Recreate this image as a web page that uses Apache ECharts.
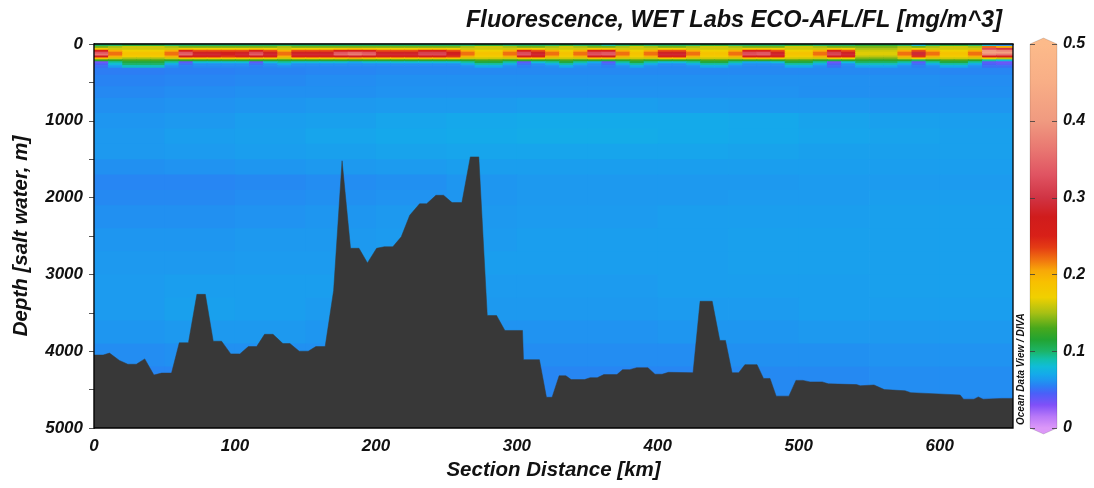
<!DOCTYPE html>
<html><head><meta charset="utf-8">
<script src="https://cdn.jsdelivr.net/npm/echarts/dist/echarts.min.js"></script>
<style>html,body{margin:0;padding:0;background:#fff}#c{width:1094px;height:488px}</style>
</head><body><div id="c"></div>
<script>
// ---------------- data ----------------
const chartTitle = 'Fluorescence, WET Labs ECO-AFL/FL [mg/m^3]';
const xName = 'Section Distance [km]';
const yName = 'Depth [salt water, m]';
const colorbarTicks = [0, 0.1, 0.2, 0.3, 0.4, 0.5];

// seafloor (km, m)
const bottomKm = [0,6.5,11,18,24,30,36,42.5,48,55,60.5,67,73,79,84.6,90.5,97,103.5,109.5,115.4,121,127,134,139,145.6,152,157.4,164,170,176,182,188,194,200.5,206,212,218,224,231,236,242.6,248,254,261,267,273,279,285.6,291.5,304,304.7,316,321,325,330,334.8,338.5,348,352,357,361.7,371,375,380,385,393,398,403,407.6,425,430,438.6,444,448,452.7,457.4,461.8,470.4,475,479.6,484,493,498,503,508,516.7,521,541,543.6,553.4,560.7,575.4,579.5,614.5,616.9,624.3,627.4,630.8,643.8,652];
const bottomDepth = [4050,4050,4025,4120,4170,4170,4100,4310,4285,4285,3890,3890,3260,3260,3870,3870,4035,4035,3940,3940,3780,3780,3900,3900,4000,4000,3940,3940,3210,1520,2660,2660,2850,2660,2640,2640,2510,2230,2080,2080,1970,1970,2065,2065,1470,1470,3535,3535,3730,3730,4110,4110,4600,4600,4320,4320,4370,4370,4345,4345,4305,4305,4240,4240,4215,4215,4300,4300,4275,4280,3350,3350,3860,3860,4280,4280,4175,4175,4355,4355,4585,4585,4380,4380,4400,4400,4425,4435,4450,4440,4500,4515,4540,4570,4625,4625,4595,4625,4615,4615];

// upper layer grid (0-300 m), 10 km columns
const surfKm = [0,10,20,30,40,50,60,70,80,90,100,110,120,130,140,150,160,170,180,190,200,210,220,230,240,250,260,270,280,290,300,310,320,330,340,350,360,370,380,390,400,410,420,430,440,450,460,470,480,490,500,510,520,530,540,550,560,570,580,590,600,610,620,630,640,652];
const surfDepth = [0,25,50,75,100,125,150,175,200,225,250,275,300];
const fl_0_25 = [
 .10,.10,.11,.11,.11,.10,.10,.10,.10,.10,
 .10,.10,.10,.10,.10,.10,.10,.10,.10,.10,
 .10,.10,.10,.10,.10,.10,.10,.11,.11,.10,
 .10,.10,.10,.11,.10,.10,.09,.10,.11,.10,
 .10,.10,.10,.11,.11,.10,.10,.10,.10,.11,
 .11,.10,.10,.10,.11,.11,.11,.10,.08,.10,
 .11,.11,.10,.08,.06];
const fl_25_50 = [
 .14,.15,.16,.16,.16,.15,.14,.14,.14,.14,
 .14,.14,.14,.15,.14,.14,.14,.14,.14,.14,
 .14,.14,.14,.14,.14,.14,.15,.16,.16,.15,
 .14,.14,.15,.16,.15,.14,.14,.15,.16,.15,
 .14,.14,.15,.16,.16,.15,.14,.14,.14,.16,
 .16,.15,.14,.14,.14,.14,.14,.15,.14,.15,
 .16,.16,.15,.22,.20];
const fl_50_75 = [
 .18,.16,.16,.16,.16,.16,.18,.17,.17,.17,
 .17,.18,.17,.16,.17,.17,.17,.18,.19,.18,
 .17,.17,.17,.18,.18,.17,.16,.16,.16,.16,
 .18,.17,.16,.16,.16,.18,.18,.16,.16,.16,
 .17,.17,.16,.16,.16,.16,.18,.18,.17,.16,
 .16,.16,.18,.17,.15,.15,.15,.16,.17,.16,
 .16,.16,.16,.32,.30];
const fl_75_100 = [
 .25,.20,.17,.17,.17,.20,.25,.23,.23,.23,
 .23,.25,.23,.20,.23,.23,.23,.25,.26,.25,
 .23,.23,.23,.25,.25,.23,.20,.17,.17,.20,
 .25,.23,.20,.17,.20,.25,.25,.20,.17,.20,
 .23,.23,.20,.17,.17,.20,.25,.25,.23,.17,
 .17,.20,.25,.23,.16,.16,.16,.20,.23,.20,
 .17,.17,.20,.40,.38];
const fl_100_125 = [
 .33,.22,.185,.185,.185,.22,.33,.28,.28,.27,
 .28,.32,.28,.22,.28,.28,.28,.33,.35,.33,
 .28,.28,.28,.31,.31,.27,.22,.185,.185,.22,
 .32,.28,.22,.185,.22,.32,.33,.22,.185,.22,
 .28,.28,.22,.185,.185,.22,.32,.33,.28,.185,
 .185,.22,.31,.28,.165,.165,.165,.22,.29,.22,
 .185,.185,.22,.42,.42];
const fl_125_150 = [
 .36,.22,.185,.185,.185,.22,.35,.29,.29,.28,
 .29,.34,.29,.22,.29,.29,.29,.35,.37,.35,
 .29,.29,.29,.32,.32,.28,.22,.185,.185,.22,
 .33,.29,.22,.185,.22,.33,.34,.22,.185,.22,
 .29,.29,.22,.185,.185,.22,.33,.34,.29,.185,
 .185,.22,.32,.29,.165,.165,.165,.22,.29,.22,
 .185,.185,.22,.38,.36];
const fl_150_175 = [
 .27,.20,.175,.175,.175,.20,.27,.25,.25,.24,
 .25,.27,.25,.20,.25,.25,.25,.27,.28,.27,
 .25,.25,.25,.26,.26,.24,.20,.175,.175,.20,
 .26,.25,.20,.175,.20,.26,.27,.20,.175,.20,
 .25,.25,.20,.175,.175,.20,.26,.27,.25,.175,
 .175,.20,.26,.25,.155,.155,.155,.20,.24,.20,
 .175,.175,.20,.26,.25];
const fl_175_200 = [
 .19,.16,.15,.15,.15,.16,.19,.18,.18,.18,
 .18,.19,.18,.16,.18,.18,.18,.19,.20,.19,
 .18,.18,.18,.19,.19,.18,.16,.16,.16,.16,
 .19,.18,.16,.16,.16,.19,.19,.16,.16,.16,
 .18,.18,.16,.16,.16,.16,.19,.19,.18,.16,
 .16,.16,.18,.17,.14,.14,.14,.16,.17,.16,
 .16,.16,.16,.17,.16];
const fl_200_225 = [
 .12,.12,.13,.13,.13,.12,.12,.12,.12,.12,
 .12,.12,.12,.12,.12,.12,.12,.12,.12,.12,
 .12,.12,.12,.12,.12,.12,.12,.13,.13,.12,
 .12,.12,.12,.13,.12,.12,.11,.12,.13,.12,
 .12,.12,.12,.13,.13,.12,.12,.12,.12,.13,
 .13,.12,.11,.12,.12,.12,.12,.12,.10,.12,
 .13,.13,.12,.09,.08];
const fl_225_250 = [
 .035,.09,.11,.11,.11,.09,.04,.08,.08,.08,
 .08,.04,.08,.09,.08,.08,.08,.08,.07,.08,
 .08,.08,.08,.08,.08,.08,.09,.11,.11,.09,
 .04,.08,.09,.11,.09,.07,.04,.09,.11,.09,
 .08,.08,.09,.11,.11,.09,.07,.07,.08,.11,
 .11,.09,.035,.08,.10,.10,.10,.09,.04,.09,
 .11,.11,.09,.04,.035];
const fl_250_275 = [
 .045,.08,.10,.10,.10,.07,.05,.06,.06,.06,
 .06,.05,.06,.07,.06,.06,.06,.06,.06,.06,
 .06,.06,.06,.06,.06,.06,.07,.09,.09,.07,
 .05,.06,.07,.09,.07,.06,.05,.07,.09,.07,
 .06,.06,.07,.09,.09,.07,.06,.06,.06,.09,
 .09,.07,.045,.06,.085,.085,.085,.07,.05,.07,
 .09,.09,.07,.045,.04];
const fl_275_300 = [
 .05,.065,.085,.085,.085,.06,.055,.058,.058,.058,
 .058,.055,.058,.06,.058,.058,.058,.058,.058,.058,
 .058,.058,.058,.058,.058,.058,.06,.07,.07,.06,
 .055,.058,.06,.07,.06,.058,.055,.06,.07,.06,
 .058,.058,.06,.07,.07,.06,.058,.058,.058,.07,
 .07,.06,.05,.058,.068,.068,.068,.06,.055,.06,
 .07,.07,.06,.05,.05];
const surfRows = [fl_0_25, fl_25_50, fl_50_75, fl_75_100, fl_100_125, fl_125_150,
  fl_150_175, fl_175_200, fl_200_225, fl_225_250, fl_250_275, fl_275_300];

// deep grid (300-5000 m), 50 km columns
const deepKm = [0,50,100,150,200,250,300,350,400,450,500,550,600,652];
const deepDepth = [300,400,550,700,900,1100,1300,1500,1700,1900,2100,2400,2700,3000,3300,3600,3900,4200,4600,5000];
const deepRows = [
 [.054,.055,.056,.057,.058,.058,.058,.058,.058,.058,.058,.058,.057],
 [.056,.057,.058,.059,.060,.060,.060,.060,.060,.060,.060,.060,.059],
 [.058,.059,.060,.060,.061,.061,.061,.061,.061,.061,.060,.060,.060],
 [.060,.061,.062,.063,.064,.064,.065,.065,.064,.063,.063,.062,.062],
 [.062,.063,.065,.066,.068,.069,.070,.070,.070,.069,.067,.066,.065],
 [.063,.065,.066,.068,.069,.070,.071,.071,.070,.069,.068,.067,.066],
 [.063,.064,.065,.066,.067,.068,.068,.068,.068,.067,.066,.066,.066],
 [.060,.061,.062,.063,.064,.065,.065,.065,.065,.065,.065,.065,.065],
 [.057,.057,.058,.059,.060,.062,.063,.063,.063,.063,.064,.064,.064],
 [.058,.058,.059,.060,.061,.062,.063,.063,.063,.064,.064,.065,.065],
 [.060,.060,.061,.062,.063,.063,.064,.064,.065,.065,.065,.066,.066],
 [.062,.062,.063,.063,.064,.064,.065,.065,.065,.066,.066,.066,.066],
 [.063,.063,.064,.064,.065,.065,.065,.065,.065,.066,.066,.066,.066],
 [.064,.065,.065,.065,.064,.064,.064,.064,.065,.065,.065,.066,.066],
 [.064,.066,.065,.064,.063,.063,.063,.063,.064,.064,.065,.065,.065],
 [.062,.063,.063,.062,.061,.061,.061,.061,.062,.062,.063,.063,.063],
 [.059,.060,.060,.060,.059,.059,.059,.059,.059,.060,.060,.061,.061],
 [.057,.057,.057,.057,.057,.057,.057,.057,.057,.058,.058,.059,.059],
 [.056,.056,.056,.056,.056,.056,.056,.056,.056,.057,.057,.058,.058]
];

// colour palette (ODV style)
const paletteStops = [0,.015,.03,.045,.055,.062,.07,.08,.09,.10,.115,.13,.15,.17,.19,.205,.22,.235,.25,.275,.30,.33,.36,.40,.45,.50];
const paletteColors = ['#dc98f8','#b878f8','#8050f8','#4a60f8','#2a80f4','#1e96f0','#14aaea','#10bcd8','#12c0a8','#1cb468','#22a432','#48a81c','#a8c014','#f0d000','#f8c000','#f8a808','#f07010','#e43c14','#d82018','#d01c1c','#d03444','#e05462','#e87470','#f09a80','#f8ae86','#fcba8a'];

// ---------------- helpers ----------------
function hexRgb(h){return [parseInt(h.slice(1,3),16),parseInt(h.slice(3,5),16),parseInt(h.slice(5,7),16)];}
function colorFor(v){
  if (v <= paletteStops[0]) return paletteColors[0];
  const n = paletteStops.length;
  if (v >= paletteStops[n-1]) return paletteColors[n-1];
  for (let i=0;i<n-1;i++){
    if (v <= paletteStops[i+1]){
      const t=(v-paletteStops[i])/(paletteStops[i+1]-paletteStops[i]);
      const a=hexRgb(paletteColors[i]), b=hexRgb(paletteColors[i+1]);
      return 'rgb('+a.map((c,k)=>Math.round(c+(b[k]-c)*t)).join(',')+')';
    }
  }
}
function cells(colEdges, depthEdges, rows){
  const out=[];
  rows.forEach((row,j)=>row.forEach((v,i)=>out.push([colEdges[i],colEdges[i+1],depthEdges[j],depthEdges[j+1],v])));
  return out;
}
function renderCell(params, api){
  const p0=api.coord([api.value(0),api.value(2)]);
  const p1=api.coord([api.value(1),api.value(3)]);
  return {type:'rect',shape:{x:p0[0],y:p0[1],width:p1[0]-p0[0]+0.7,height:p1[1]-p0[1]+0.7},
    style:{fill:colorFor(api.value(4))}};
}
function renderColorbar(params, api){
  const vmin=colorbarTicks[0], vmax=colorbarTicks[colorbarTicks.length-1];
  const tl=api.coord([0,vmax]), tr=api.coord([1,vmax]);
  const bl=api.coord([0,vmin]), br=api.coord([1,vmin]);
  const mid=(tl[0]+tr[0])/2, tip=6;
  const top=tl[1]-tip, bot=bl[1]+tip;
  const stops=paletteStops.map((s,i)=>({offset:(api.coord([0,s])[1]-top)/(bot-top),color:paletteColors[i]})).reverse();
  stops.unshift({offset:0,color:paletteColors[paletteColors.length-1]});
  stops.push({offset:1,color:paletteColors[0]});
  const children=[{type:'polygon',
    shape:{points:[[bl[0],bl[1]],[tl[0],tl[1]],[mid,top],[tr[0],tr[1]],[br[0],br[1]],[mid,bot]]},
    style:{fill:{type:'linear',x:0,y:top,x2:0,y2:bot,global:true,colorStops:stops},
      stroke:'rgba(0,0,0,0.22)',lineWidth:0.6}}];
  colorbarTicks.forEach(t=>{
    const y=Math.round(api.coord([0,t])[1])+0.5;
    children.push({type:'line',shape:{x1:tl[0],y1:y,x2:tl[0]+5,y2:y},style:{stroke:'rgba(60,60,60,0.8)',lineWidth:1}});
    children.push({type:'line',shape:{x1:tr[0]-5,y1:y,x2:tr[0],y2:y},style:{stroke:'rgba(60,60,60,0.8)',lineWidth:1}});
  });
  return {type:'group',children};
}

const FONT='"Liberation Sans", Arial, sans-serif';
const lab={color:'#111',fontFamily:FONT,fontWeight:'bold',fontStyle:'italic',fontSize:17};

const chart=echarts.init(document.getElementById('c'),null,{renderer:'canvas'});
chart.setOption({
  animation:false,
  backgroundColor:'#fff',
  title:{text:chartTitle,right:87,top:4,textStyle:{color:'#111',fontFamily:FONT,fontWeight:'bold',fontStyle:'italic',fontSize:23.5}},
  grid:[
    {left:94,top:44,width:919,height:384,show:true,z:10,borderColor:'#000',borderWidth:1.3,backgroundColor:'transparent',outerBoundsMode:'none',containLabel:false},
    {left:1030,top:44,width:27,height:384,show:false,outerBoundsMode:'none',containLabel:false}
  ],
  xAxis:[
    {gridIndex:0,type:'value',min:0,max:652,interval:50,
      axisLine:{show:true,lineStyle:{color:'#000',width:1.3}},
      axisTick:{show:true,inside:false,length:5,lineStyle:{color:'#555'}},
      splitLine:{show:false},
      axisLabel:Object.assign({margin:10,showMaxLabel:false,formatter:v=>v%100===0?String(v):''},lab),
      name:xName,nameLocation:'middle',nameGap:31,
      nameTextStyle:{color:'#111',fontFamily:FONT,fontWeight:'bold',fontStyle:'italic',fontSize:20.5}},
    {gridIndex:1,type:'value',min:0,max:1,show:false}
  ],
  yAxis:[
    {gridIndex:0,type:'value',inverse:true,min:0,max:5000,interval:500,
      axisLine:{show:true,lineStyle:{color:'#000',width:1.3}},
      axisTick:{show:true,inside:false,length:5,lineStyle:{color:'#555'}},
      splitLine:{show:false},
      axisLabel:Object.assign({margin:11,formatter:v=>v%1000===0?String(v):''},lab),
      name:yName,nameLocation:'middle',nameGap:63,
      nameTextStyle:{color:'#111',fontFamily:FONT,fontWeight:'bold',fontStyle:'italic',fontSize:20.5}},
    {gridIndex:1,type:'value',min:0,max:0.5,interval:0.1,position:'right',
      axisLine:{show:false},splitLine:{show:false},axisTick:{show:false},
      axisLabel:Object.assign({margin:6,formatter:v=>v===0?'0':v.toFixed(1)},lab,{fontSize:16})}
  ],
  graphic:[
    {type:'text',x:1016,y:425,rotation:Math.PI/2,z:20,
      style:{text:'Ocean Data View / DIVA',fill:'#111',font:'italic bold 10px '+FONT,textAlign:'left',textVerticalAlign:'top'}}
  ],
  series:[
    {type:'custom',name:'deep',xAxisIndex:0,yAxisIndex:0,data:cells(deepKm,deepDepth,deepRows),renderItem:renderCell,z:1,silent:true,clip:true},
    {type:'custom',name:'upper',xAxisIndex:0,yAxisIndex:0,data:cells(surfKm,surfDepth,surfRows),renderItem:renderCell,z:2,silent:true,clip:true},
    {type:'line',name:'seafloor',xAxisIndex:0,yAxisIndex:0,data:bottomKm.map((k,i)=>[k,bottomDepth[i]]),
      symbol:'none',lineStyle:{width:0.5,color:'#383838'},areaStyle:{color:'#383838',opacity:1,origin:'end'},z:5,silent:true},
    {type:'custom',name:'colorbar',xAxisIndex:1,yAxisIndex:1,data:[[0,0]],renderItem:renderColorbar,z:3,silent:true}
  ]
});
</script>
</body></html>
